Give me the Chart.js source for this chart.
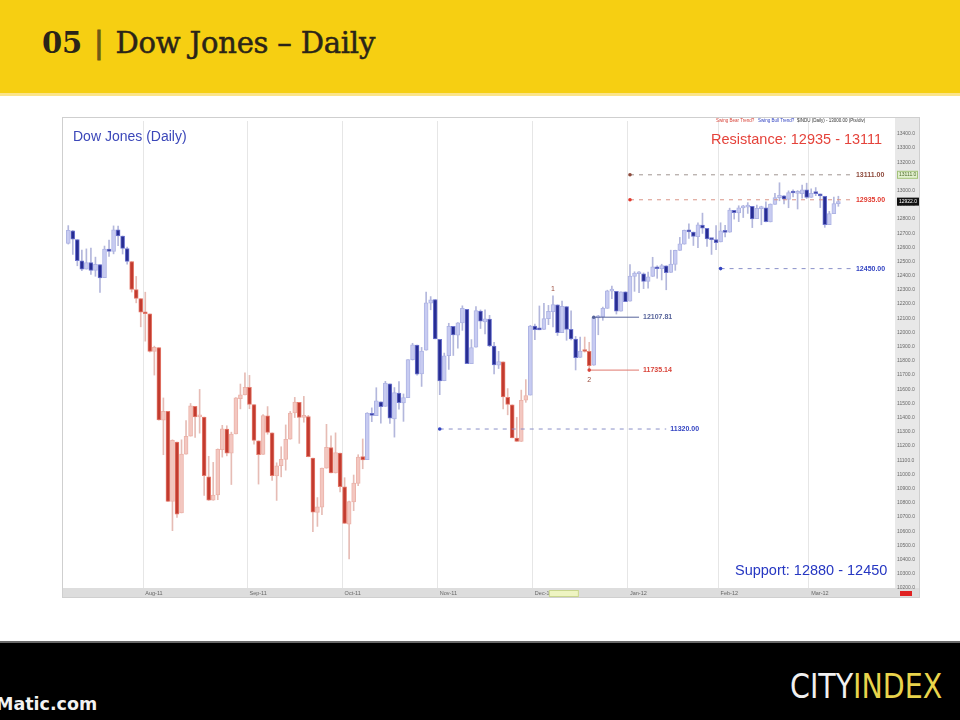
<!DOCTYPE html>
<html>
<head>
<meta charset="utf-8">
<script src="https://cdn.jsdelivr.net/npm/chart.js@4.4.1/dist/chart.umd.min.js"></script>
<style>
  html, body { margin: 0; padding: 0; }
  body { width: 960px; height: 720px; position: relative; overflow: hidden; background: #fff; font-family: "Liberation Sans", Arial, sans-serif; }
  #header { position: absolute; left: 0; top: 0; width: 960px; height: 93px; background: #f6cf12; border-bottom: 3px solid #fbe48a; }
  #title { position: absolute; left: 42px; top: 26px; font-family: "DejaVu Serif", serif; font-size: 29px; color: #2a2418; white-space: nowrap; letter-spacing: -0.2px; -webkit-text-stroke: 0.5px #2a2418; }
  #title .num { font-weight: bold; -webkit-text-stroke: 0; }
  #title .sep { color: #6e5a14; margin: 0 12px; -webkit-text-stroke: 1px #6e5a14; }
  #chartBox { position: absolute; left: 62px; top: 117px; width: 858px; height: 481px; }
  .txt { position: absolute; white-space: nowrap; }
  #chartTitle { left: 73px; top: 128px; font-size: 14px; color: #3b47b9; }
  #resist { left: 711px; top: 131px; font-size: 14.5px; color: #e5433b; }
  #support { left: 735px; top: 562px; font-size: 14.5px; color: #2637c2; }
  #footer { position: absolute; left: 0; top: 641px; width: 960px; height: 77px; background: #000; border-top: 2px solid #6a6a6a; }
  #site { left: -4px; top: 51px; font-family: "DejaVu Sans", sans-serif; font-weight: bold; font-size: 17.5px; color: #f2f2f2; }
  #logo { left: 790px; top: 24px; font-family: "Liberation Sans Narrow", "DejaVu Sans Condensed", sans-serif; font-size: 33px; color: #f0f0f0; transform: scaleX(0.96); transform-origin: left top; }
  #logo span { color: #e9d44c; }
</style>
</head>
<body>
<div id="header"><div id="title"><span class="num">05</span><span class="sep">|</span>Dow Jones – Daily</div></div>
<div id="chartBox"><canvas id="chart"></canvas></div>
<div class="txt" id="chartTitle">Dow Jones (Daily)</div>
<div class="txt" id="resist">Resistance: 12935 - 13111</div>
<div class="txt" id="support">Support: 12880 - 12450</div>
<div id="footer">
  <div class="txt" id="site">Matic.com</div>
  <div class="txt" id="logo">CITY<span>INDEX</span></div>
</div>
<script>
// Fechas de sesión (las últimas son huecos a la derecha, sin datos)
const dates = [
  '2011-07-07','2011-07-08','2011-07-11','2011-07-12','2011-07-13','2011-07-14','2011-07-15','2011-07-18','2011-07-19','2011-07-20','2011-07-21','2011-07-22','2011-07-25','2011-07-26','2011-07-27','2011-07-28','2011-07-29',
  '2011-08-01','2011-08-02','2011-08-03','2011-08-04','2011-08-05','2011-08-08','2011-08-09','2011-08-10','2011-08-11','2011-08-12','2011-08-15','2011-08-16','2011-08-17','2011-08-18','2011-08-19','2011-08-22','2011-08-23','2011-08-24','2011-08-25','2011-08-26','2011-08-29','2011-08-30','2011-08-31',
  '2011-09-01','2011-09-02','2011-09-06','2011-09-07','2011-09-08','2011-09-09','2011-09-12','2011-09-13','2011-09-14','2011-09-15','2011-09-16','2011-09-19','2011-09-20','2011-09-21','2011-09-22','2011-09-23','2011-09-26','2011-09-27','2011-09-28','2011-09-29','2011-09-30',
  '2011-10-03','2011-10-04','2011-10-05','2011-10-06','2011-10-07','2011-10-10','2011-10-11','2011-10-12','2011-10-13','2011-10-14','2011-10-17','2011-10-18','2011-10-19','2011-10-20','2011-10-21','2011-10-24','2011-10-25','2011-10-26','2011-10-27','2011-10-28','2011-10-31',
  '2011-11-01','2011-11-02','2011-11-03','2011-11-04','2011-11-07','2011-11-08','2011-11-09','2011-11-10','2011-11-11','2011-11-14','2011-11-15','2011-11-16','2011-11-17','2011-11-18','2011-11-21','2011-11-22','2011-11-23','2011-11-25','2011-11-28','2011-11-29','2011-11-30',
  '2011-12-01','2011-12-02','2011-12-05','2011-12-06','2011-12-07','2011-12-08','2011-12-09','2011-12-12','2011-12-13','2011-12-14','2011-12-15','2011-12-16','2011-12-19','2011-12-20','2011-12-21','2011-12-22','2011-12-23','2011-12-27','2011-12-28','2011-12-29','2011-12-30',
  '2012-01-03','2012-01-04','2012-01-05','2012-01-06','2012-01-09','2012-01-10','2012-01-11','2012-01-12','2012-01-13','2012-01-17','2012-01-18','2012-01-19','2012-01-20','2012-01-23','2012-01-24','2012-01-25','2012-01-26','2012-01-27','2012-01-30','2012-01-31',
  '2012-02-01','2012-02-02','2012-02-03','2012-02-06','2012-02-07','2012-02-08','2012-02-09','2012-02-10','2012-02-13','2012-02-14','2012-02-15','2012-02-16','2012-02-17','2012-02-21','2012-02-22','2012-02-23','2012-02-24','2012-02-27','2012-02-28','2012-02-29',
  '2012-03-01','2012-03-02','2012-03-05','2012-03-06','2012-03-07','2012-03-08','2012-03-09',
  '2012-03-12','2012-03-13','2012-03-14','2012-03-15','2012-03-16','2012-03-19','2012-03-20','2012-03-21','2012-03-22','2012-03-23','2012-03-26','2012-03-27'
];

const opens = [
  12627,12717,12655,12505,12447,12492,12437,12479,12386,12588,12571,12724,12680,12592,12500,12302,12239,
  12144,12131,11866,11893,11383,11444,10810,11228,10729,11143,11270,11480,11406,11405,10983,10819,10855,11175,11320,11149,11286,11534,11560,
  11613,11492,11237,11141,11413,11294,10990,11061,11106,11248,11433,11508,11402,11408,11115,10732,10770,11044,11190,11011,11151,
  10912,10650,10806,10937,11125,11104,11426,11414,11511,11480,11638,11392,11573,11504,11541,11809,11911,11708,11875,12206,12232,
  11951,11660,11836,12043,11982,12067,12164,11781,11896,12151,12075,12094,11905,11770,11794,11544,11490,11257,11232,11523,11559,
  12045,12025,12021,12097,12147,12195,11999,12183,12022,11953,11825,11868,11867,11769,12103,12110,12170,12291,12290,12151,12287,
  12221,12395,12414,12413,12360,12395,12461,12449,12470,12423,12480,12578,12622,12720,12708,12675,12756,12734,12657,12654,
  12638,12717,12706,12860,12843,12878,12883,12889,12802,12873,12878,12779,12903,12949,12963,12938,12984,12980,12978,13005,
  12952,12979,12976,12960,12760,12838,12908
];
const highs = [
  12753,12719,12655,12580,12589,12595,12531,12479,12609,12651,12751,12750,12680,12602,12500,12395,12239,
  12284,12131,11904,11893,11539,11444,11244,11228,11244,11379,11500,11480,11599,11405,11128,11085,11180,11346,11343,11298,11541,11637,11716,
  11698,11492,11237,11421,11478,11294,11082,11195,11349,11444,11543,11508,11550,11416,11115,10837,11044,11353,11272,11293,11151,
  10977,10812,10996,11139,11250,11435,11469,11611,11511,11656,11638,11612,11654,11567,11809,11924,11911,11895,12285,12253,12232,
  11951,11855,12065,12043,12070,12188,12164,11950,12183,12159,12160,12121,11930,11867,11794,11605,11490,11402,11594,11668,12050,
  12060,12187,12205,12191,12258,12195,12221,12183,12153,11972,11968,11968,11931,12108,12121,12179,12298,12327,12290,12287,12287,
  12479,12428,12430,12420,12425,12530,12470,12481,12470,12580,12580,12670,12722,12766,12708,12773,12841,12734,12657,12753,
  12773,12755,12876,12860,12893,12896,12915,12889,12898,12890,12920,12906,12980,13055,12965,12998,13005,13000,13039,13052,
  13012,13021,12976,12960,12853,12954,12960
];
const lows = [
  12623,12550,12470,12435,12447,12410,12396,12283,12386,12536,12554,12611,12553,12482,12285,12209,12040,
  11939,11862,11700,11383,11139,10809,10604,10698,10729,11143,11270,11260,11291,10853,10817,10818,10822,11122,11131,10929,11286,11462,11560,
  11463,11213,10932,11141,11283,10958,10817,10983,11030,11248,11401,11219,11368,11124,10597,10634,10716,11044,11011,11010,10877,
  10655,10404,10745,10921,11040,11104,11372,11414,11362,11480,11359,11263,11460,11374,11541,11806,11700,11620,11875,12160,11955,
  11562,11660,11740,11838,11890,12015,11781,11781,11896,12028,11990,11900,11709,11746,11462,11420,11258,11232,11232,11508,11559,
  11950,12019,12021,12055,12039,11979,11999,11945,11947,11736,11825,11862,11735,11769,11984,12086,12170,12239,12130,12151,12217,
  12221,12290,12280,12309,12312,12395,12382,12370,12301,12423,12438,12578,12622,12663,12613,12597,12698,12606,12550,12583,
  12638,12673,12706,12799,12781,12810,12839,12739,12802,12759,12779,12779,12903,12928,12905,12879,12955,12870,12946,12944,
  12952,12964,12880,12741,12760,12838,12889
];
const closes = [
  12719,12657,12506,12447,12492,12437,12480,12385,12587,12572,12724,12681,12593,12501,12303,12240,12143,
  12132,11867,11896,11384,11445,10810,11240,10720,11143,11269,11483,11406,11410,10991,10818,10855,11177,11321,11150,11285,11539,11560,11614,
  11494,11240,11139,11415,11296,10992,11061,11106,11247,11433,11509,11401,11409,11125,10734,10771,11044,11191,11011,11154,10913,
  10655,10809,10940,11123,11103,11433,11416,11519,11478,11644,11397,11577,11505,11542,11809,11914,11707,11869,12209,12231,11955,
  11658,11836,12044,11983,12068,12170,11781,11894,12154,12079,12096,11906,11771,11796,11547,11494,11258,11232,11523,11556,12046,
  12020,12019,12098,12150,12196,11998,12184,12021,11955,11823,11869,11866,11766,12104,12108,12170,12294,12291,12151,12287,12218,
  12397,12418,12416,12360,12393,12462,12449,12471,12422,12482,12579,12624,12720,12709,12676,12759,12735,12660,12654,12633,
  12716,12705,12862,12845,12878,12884,12890,12801,12874,12878,12781,12904,12950,12966,12939,12985,12983,12981,13005,12952,
  12980,12978,12963,12759,12837,12908,12922
];

// Tramos de tendencia (bull = azul, bear = rojo)
const trendFrom = ['2011-07-07','2011-07-27','2011-10-10','2011-11-21','2011-11-30','2011-12-16','2011-12-20'];
const trendKind = ['bull','bear','bull','bear','bull','bear','bull'];

// Niveles horizontales
const levelValues = [13111, 12935, 12450, 11320, 12107.81, 11735.14];
const levelTexts = ['13111.00', '12935.00', '12450.00', '11320.00', '12107.81', '11735.14'];
const levelFrom = ['2012-01-03', '2012-01-03', '2012-02-01', '2011-11-01', '2011-12-20', '2011-12-19'];
const levelTo = ['2012-03-14', '2012-03-14', '2012-03-14', '2012-01-13', '2012-01-05', '2012-01-05'];

// Marcas de swing
const swingDates = ['2011-12-07', '2011-12-19'];
const swingTexts = ['1', '2'];

// Eje de precios
const priceMin = 10200;
const priceMax = 13490;
const priceTicks = [10200,10300,10400,10500,10600,10700,10800,10900,11000,11100,11200,11300,11400,11500,11600,11700,11800,11900,12000,12100,12200,12300,12400,12500,12600,12700,12800,12900,13000,13100,13200,13300,13400];

const monthNames = ['Jan','Feb','Mar','Apr','May','Jun','Jul','Aug','Sep','Oct','Nov','Dec'];
const lastClose = closes[closes.length - 1];

// Estilos de los niveles
const levelStyles = [
  { line: '#a09590', text: '#8e4a3c', dash: [4, 5] },
  { line: '#d99486', text: '#e2392e', dash: [4, 5] },
  { line: '#8a90c8', text: '#3344c2', dash: [4, 5] },
  { line: '#8a90c8', text: '#3344c2', dash: [4, 5] },
  { line: '#56639a', text: '#56639a', dash: [] },
  { line: '#e0776e', text: '#d9443a', dash: [] }
];

const trendAt = (i) => {
    let kind = trendKind[0];
    trendFrom.forEach((from, j) => {
        if (dates[i] >= from) kind = trendKind[j];
    });
    return kind;
};

const isMonthStart = (i) => i > 0 && i < dates.length && dates[i].slice(5, 7) !== dates[i - 1].slice(5, 7);

const bodyFill = (i) => {
    const bull = trendAt(i) === 'bull';
    const down = closes[i] < opens[i];
    if (bull) return down ? '#272d92' : '#c7cbf1';
    return down ? '#c23b2f' : '#f3c7c0';
};
const bodyEdge = (i) => {
    const bull = trendAt(i) === 'bull';
    const down = closes[i] < opens[i];
    if (bull) return down ? '#6d74cf' : '#aeb4e4';
    return down ? '#e57a6c' : '#ebb3aa';
};
const wickColor = (i) => trendAt(i) === 'bull' ? '#b3b7dc' : '#e6bcb5';

const datasets = [
    {
        label: 'wicks',
        data: lows.map((l, i) => [l, highs[i]]),
        backgroundColor: (ctx) => wickColor(ctx.dataIndex),
        barThickness: 1,
        grouped: false,
        order: 3
    },
    {
        label: 'bodies',
        data: opens.map((o, i) => [Math.min(o, closes[i]), Math.max(o, closes[i])]),
        backgroundColor: (ctx) => bodyFill(ctx.dataIndex),
        borderColor: (ctx) => bodyEdge(ctx.dataIndex),
        borderWidth: 1,
        borderSkipped: false,
        barThickness: 4,
        minBarLength: 2,
        grouped: false,
        order: 2
    }
];

levelValues.forEach((v, k) => {
    datasets.push({
        type: 'line',
        label: levelTexts[k],
        levelIndex: k,
        data: [{ x: levelFrom[k], y: v }, { x: levelTo[k], y: v }],
        borderColor: levelStyles[k].line,
        borderWidth: 1,
        borderDash: levelStyles[k].dash,
        pointRadius: [1.8, 0],
        pointBackgroundColor: levelStyles[k].text,
        pointBorderWidth: 0,
        order: 1
    });
});

const decorPlugin = {
    id: 'decor',
    beforeDraw(chart) {
        const { ctx, chartArea: a, width, height } = chart;
        ctx.save();
        ctx.fillStyle = '#ffffff';
        ctx.fillRect(0, 0, width, height);
        ctx.fillStyle = '#e8e8e8';
        ctx.fillRect(a.right, 0, width - a.right, height);
        ctx.fillStyle = '#dddddd';
        ctx.fillRect(0, a.bottom, width, height - a.bottom);
        ctx.restore();
    },
    afterDatasetsDraw(chart) {
        const { ctx } = chart;
        const x = chart.scales.x;
        const y = chart.scales.y;
        ctx.save();
        // etiquetas de los niveles
        ctx.font = 'bold 7px "Liberation Sans", Arial';
        ctx.textBaseline = 'middle';
        chart.data.datasets.forEach((ds, i) => {
            if (ds.levelIndex === undefined) return;
            const pt = chart.getDatasetMeta(i).data[1];
            ctx.fillStyle = levelStyles[ds.levelIndex].text;
            ctx.fillText(levelTexts[ds.levelIndex], pt.x + 4, pt.y);
        });
        // marcas 1 y 2
        ctx.font = '7px "Liberation Sans", Arial';
        ctx.fillStyle = '#9a4a3a';
        ctx.textAlign = 'center';
        swingDates.forEach((d, k) => {
            const i = dates.indexOf(d);
            const px = x.getPixelForValue(i);
            const py = k === 0 ? y.getPixelForValue(highs[i]) - 7 : y.getPixelForValue(lows[i]) + 10;
            ctx.fillText(swingTexts[k], px, py);
        });
        ctx.restore();
    },
    afterDraw(chart) {
        const { ctx, chartArea: a, width, height } = chart;
        const y = chart.scales.y;
        const x = chart.scales.x;
        ctx.save();
        ctx.font = '4.5px "Liberation Sans", Arial';
        ctx.textBaseline = 'middle';
        // leyenda diminuta arriba a la derecha
        ctx.fillStyle = '#d8453a';
        ctx.fillText('Swing Bear Trend?', a.right - 179, 4);
        ctx.fillStyle = '#3344c2';
        ctx.fillText('Swing Bull Trend?', a.right - 137, 4);
        ctx.fillStyle = '#333333';
        ctx.fillText('$INDU (Daily) - 13000.00 (Pts/div)', a.right - 98, 4);
        // marcadores del eje de precios
        ctx.font = '5px "Liberation Sans", Arial';
        const gy = y.getPixelForValue(levelValues[0]);
        ctx.fillStyle = '#e2f0cf';
        ctx.strokeStyle = '#a3c27a';
        ctx.fillRect(a.right + 2, gy - 4, 21, 8);
        ctx.strokeRect(a.right + 2.5, gy - 3.5, 20, 7);
        ctx.fillStyle = '#4d6a2a';
        ctx.fillText(levelValues[0].toFixed(1), a.right + 4, gy);
        const cy = y.getPixelForValue(lastClose);
        ctx.fillStyle = '#111111';
        ctx.fillRect(a.right + 2, cy - 4, 22, 8);
        ctx.fillStyle = '#ffffff';
        ctx.fillText(lastClose.toFixed(1), a.right + 4, cy);
        // caja resaltada en el eje de fechas
        const dx = x.getPixelForValue(dates.indexOf('2011-12-01'));
        ctx.fillStyle = '#eef4c2';
        ctx.strokeStyle = '#c9d68f';
        ctx.fillRect(dx + 14, a.bottom + 2, 30, 7);
        ctx.strokeRect(dx + 14.5, a.bottom + 2.5, 29, 6);
        // caja roja abajo a la derecha
        ctx.fillStyle = '#e02222';
        ctx.fillRect(a.right + 5, a.bottom + 3, 12, 5);
        // marco
        ctx.strokeStyle = '#cfcfcf';
        ctx.lineWidth = 1;
        ctx.strokeRect(0.5, 0.5, width - 1, height - 1);
        ctx.restore();
    }
};

new Chart(document.getElementById('chart'), {
    type: 'bar',
    data: { labels: dates, datasets: datasets },
    options: {
        responsive: true,
        maintainAspectRatio: false,
        animation: false,
        layout: { padding: { left: 1, top: 1, right: 0, bottom: 0 } },
        plugins: { legend: { display: false }, tooltip: { enabled: false } },
        scales: {
            x: {
                type: 'category',
                grid: {
                    color: (ctx) => isMonthStart(ctx.index) ? '#e6e6e6' : 'rgba(0,0,0,0)',
                    drawTicks: false
                },
                border: { display: false },
                ticks: {
                    autoSkip: false,
                    maxRotation: 0,
                    minRotation: 0,
                    align: 'start',
                    padding: 2,
                    color: '#666666',
                    font: { size: 5.5, family: '"Liberation Sans", Arial' },
                    callback: (val, i) => {
                        if (!isMonthStart(i)) return '';
                        const d = dates[i];
                        return monthNames[+d.slice(5, 7) - 1] + '-' + d.slice(2, 4);
                    }
                },
                afterFit: (s) => { s.height = 10; s.paddingLeft = 0; s.paddingRight = 0; }
            },
            y: {
                position: 'right',
                min: priceMin,
                max: priceMax,
                grid: { display: false, drawTicks: false },
                border: { display: false },
                ticks: {
                    autoSkip: false,
                    padding: 2,
                    color: '#6a6a6a',
                    font: { size: 5, family: '"Liberation Sans", Arial' },
                    callback: (v) => Number(v).toFixed(1)
                },
                afterBuildTicks: (s) => { s.ticks = priceTicks.map((v) => ({ value: v })); },
                afterFit: (s) => { s.width = 25; s.paddingTop = 0; s.paddingBottom = 0; }
            }
        }
    },
    plugins: [decorPlugin]
});
</script>
</body>
</html>
